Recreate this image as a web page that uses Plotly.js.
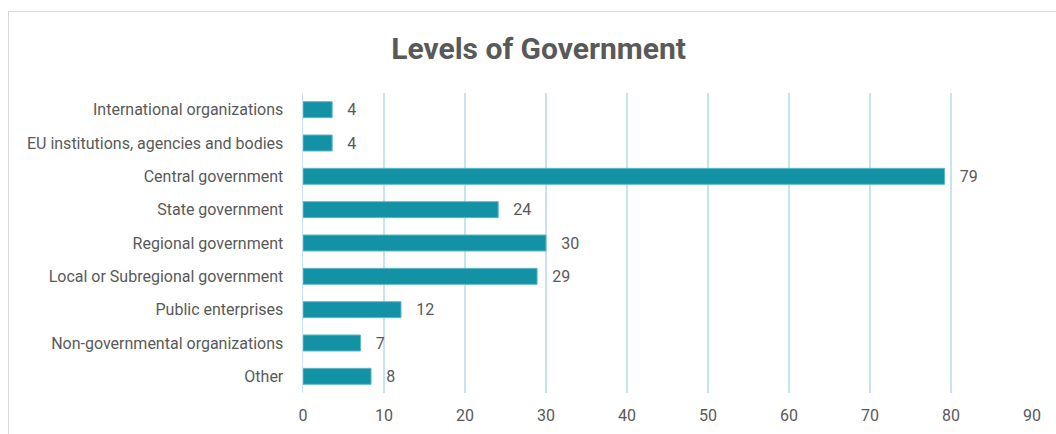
<!DOCTYPE html>
<html>
<head>
<meta charset="utf-8">
<script src="https://cdn.plot.ly/plotly-3.0.1.min.js"></script>
<style>
  html, body { margin: 0; padding: 0; background: #ffffff; }
  #wrap { position: relative; width: 1056px; height: 434px; overflow: hidden; }
  #chart { width: 1056px; height: 434px; }
  #frame { position: absolute; left: 8px; top: 11px; width: 1100px; height: 500px;
           border: 1px solid #d9d9d9; pointer-events: none; box-sizing: border-box; }
</style>
</head>
<body>
<div id="wrap">
  <div id="chart"></div>
  <div id="frame"></div>
</div>
<script>
// Categories listed top to bottom
const categories = [
  "International organizations",
  "EU institutions, agencies and bodies",
  "Central government",
  "State government",
  "Regional government",
  "Local or Subregional government",
  "Public enterprises",
  "Non-governmental organizations",
  "Other"
];
// Bar lengths
const values = [3.6, 3.6, 79.2, 24.1, 30.0, 28.9, 12.1, 7.1, 8.4];
// Data labels as printed
const labels = ["4", "4", "79", "24", "30", "29", "12", "7", "8"];
const xTicks = [0, 10, 20, 30, 40, 50, 60, 70, 80, 90];

const fontFam = "Roboto, 'Open Sans', sans-serif";
const grey = "#595959";

const trace = {
  type: "bar",
  orientation: "h",
  y: categories,
  x: values,
  text: labels,
  texttemplate: "\u2002 %{text}",
  textposition: "outside",
  constraintext: "none",
  cliponaxis: false,
  textfont: { family: fontFam, size: 16, color: grey },
  marker: { color: "#1391a5", line: { color: "#5fb8c6", width: 1 } },
  hoverinfo: "x+y"
};

const layout = {
  width: 1056,
  height: 434,
  margin: { l: 303, r: 24, t: 93, b: 41, pad: 0 },
  paper_bgcolor: "#ffffff",
  plot_bgcolor: "#ffffff",
  showlegend: false,
  bargap: 0.52,
  title: {
    text: "<b>Levels of Government</b>",
    font: { family: fontFam, size: 30, color: grey },
    x: 0.51, xanchor: "center",
    y: 0.888, yanchor: "middle", yref: "container"
  },
  xaxis: {
    range: [0, 90],
    tickvals: xTicks,
    ticktext: xTicks.map(String),
    showgrid: true,
    gridcolor: "#c6e5eb",
    gridwidth: 1.5,
    zeroline: false,
    showline: false,
    ticks: "",
    ticklabelstandoff: 11,
    tickfont: { family: fontFam, size: 16, color: grey },
    fixedrange: true
  },
  yaxis: {
    categoryorder: "array",
    categoryarray: categories.slice().reverse(),
    autorange: true,
    showgrid: false,
    zeroline: false,
    showline: true,
    linecolor: "#c6e5eb",
    linewidth: 1.5,
    ticks: "",
    ticklabelstandoff: 15,
    tickfont: { family: fontFam, size: 16, color: grey },
    fixedrange: true
  }
};

Plotly.newPlot("chart", [trace], layout, { displayModeBar: false, staticPlot: true });
</script>
</body>
</html>
